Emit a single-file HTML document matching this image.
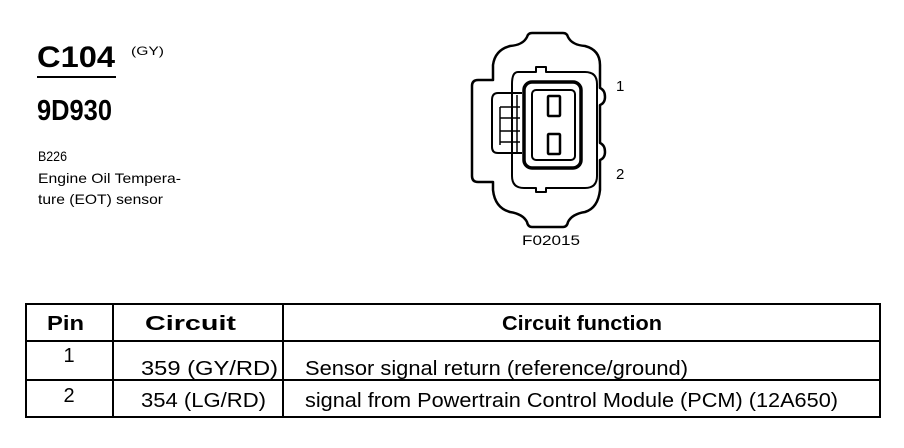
<!DOCTYPE html>
<html><head><style>
body{margin:0;background:#fff;}
.wrap{position:relative;width:904px;height:448px;overflow:hidden;}
</style></head><body><div class="wrap">
<svg style="position:absolute;left:0;top:0" width="904" height="448">
<g font-family="Liberation Sans, Arial, sans-serif">
<text x="37" y="67" font-size="30" font-weight="bold" textLength="78" lengthAdjust="spacingAndGlyphs">C104</text>
<text x="131" y="55" font-size="12" textLength="33" lengthAdjust="spacingAndGlyphs">(GY)</text>
<text x="37" y="120" font-size="29" font-weight="bold" textLength="75" lengthAdjust="spacingAndGlyphs">9D930</text>
<text x="38" y="161" font-size="14" textLength="29" lengthAdjust="spacingAndGlyphs">B226</text>
<text x="38" y="183" font-size="14" textLength="143" lengthAdjust="spacingAndGlyphs">Engine Oil Tempera-</text>
<text x="38" y="204" font-size="14" textLength="125" lengthAdjust="spacingAndGlyphs">ture (EOT) sensor</text>
</g>
<rect x="37" y="76" width="79" height="2" fill="#000"/>
<g fill="none" stroke="#000" stroke-width="2.5" stroke-linejoin="round">
<path d="M527,37 Q528,33 532,33 L563,33 Q567,33 568,37 Q572,45 585,46 Q600,50 600,65 L600,88 Q605,90 605,97 Q605,103 600,105 L600,143 Q605,145 605,152 Q605,158 600,160 L600,190 Q598,208 585,212 Q572,214 568,222 Q567,227 563,227 L532,227 Q528,227 527,222 Q523,214 510,212 Q495,208 493,190 L493,182 L478,182 Q472,182 472,176 L472,86 Q472,80 478,80 L493,80 L493,65 Q495,50 510,46 Q523,45 527,37 Z"/>
<path d="M518,72 L536,72 L536,67 L546,67 L546,72 L585,72 Q597,72 597,84 L597,176 Q597,188 585,188 L546,188 L546,192 L536,192 L536,188 L524,188 Q512,188 512,176 L512,84 Q512,72 518,72 Z" stroke-width="2"/>
<rect x="524" y="82" width="57" height="86" rx="8" stroke-width="3.5"/>
<rect x="532" y="90" width="43" height="70" rx="4" stroke-width="2"/>
<rect x="548" y="96" width="12" height="20" rx="1" stroke-width="2.5"/>
<rect x="548" y="134" width="12" height="20" rx="1" stroke-width="2.5"/>
<path d="M522,93 L498,93 Q492,93 492,100 L492,147 Q492,153 498,153 L522,153" stroke-width="2"/>
<path d="M500,107 L500,145 M500,107 L520,107 M500,118 L520,118 M500,131 L520,131 M500,142 L520,142" stroke-width="1.5"/>
<path d="M517,95 L517,152" stroke-width="1.5"/>
</g>
<g font-family="Liberation Sans, Arial, sans-serif">
<text x="616" y="91" font-size="15">1</text>
<text x="616" y="179" font-size="15">2</text>
<text x="522" y="245" font-size="14" textLength="58" lengthAdjust="spacingAndGlyphs">F02015</text>
</g>
<g stroke="#000" stroke-width="2" fill="none">
<rect x="26" y="304" width="854" height="113"/>
<line x1="26" y1="341" x2="880" y2="341"/>
<line x1="26" y1="380" x2="880" y2="380"/>
<line x1="113" y1="304" x2="113" y2="417"/>
<line x1="283" y1="304" x2="283" y2="417"/>
</g>
<g font-family="Liberation Sans, Arial, sans-serif" font-size="20">
<text x="47" y="330" font-weight="bold" textLength="37" lengthAdjust="spacingAndGlyphs">Pin</text>
<text x="145" y="330" font-weight="bold" textLength="91" lengthAdjust="spacingAndGlyphs">Circuit</text>
<text x="502" y="330" font-weight="bold" textLength="160" lengthAdjust="spacingAndGlyphs">Circuit function</text>
<text x="69" y="362" text-anchor="middle">1</text>
<text x="69" y="402" text-anchor="middle">2</text>
<text x="141" y="375" textLength="137" lengthAdjust="spacingAndGlyphs">359 (GY/RD)</text>
<text x="141" y="407" textLength="125" lengthAdjust="spacingAndGlyphs">354 (LG/RD)</text>
<text x="305" y="375" textLength="383" lengthAdjust="spacingAndGlyphs">Sensor signal return (reference/ground)</text>
<text x="305" y="407" textLength="533" lengthAdjust="spacingAndGlyphs">signal from Powertrain Control Module (PCM) (12A650)</text>
</g>
</svg>
</div></body></html>
